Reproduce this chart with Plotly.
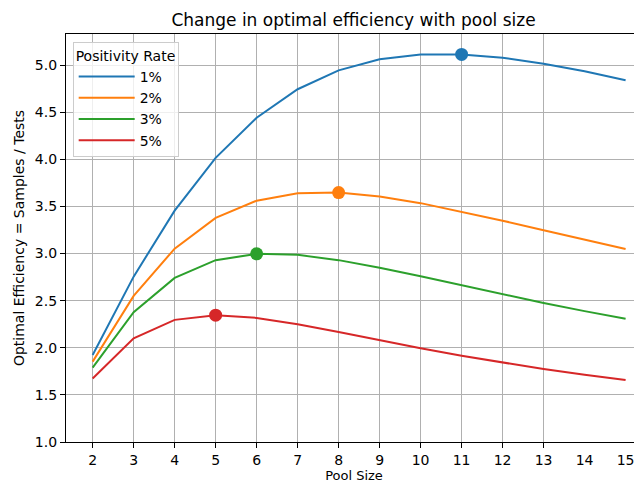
import plotly.graph_objects as go

pool_sizes = [2, 3, 4, 5, 6, 7, 8, 9, 10, 11, 12, 13, 14, 15]
rate_labels = ["1%", "2%", "3%", "5%"]
eff_1 = [1.923, 2.755, 3.455, 4.016, 4.441, 4.744, 4.944, 5.061, 5.112, 5.113, 5.078, 5.015, 4.934, 4.840]
eff_2 = [1.853, 2.550, 3.052, 3.378, 3.561, 3.640, 3.647, 3.605, 3.535, 3.446, 3.349, 3.248, 3.147, 3.048]
eff_3 = [1.789, 2.377, 2.742, 2.930, 2.997, 2.986, 2.930, 2.850, 2.758, 2.662, 2.567, 2.476, 2.389, 2.307]
eff_5 = [1.674, 2.101, 2.296, 2.346, 2.317, 2.250, 2.167, 2.080, 1.995, 1.915, 1.842, 1.774, 1.713, 1.657]
peak_pool = [11, 8, 6, 5]
peak_eff = [5.113, 3.647, 2.997, 2.346]
colors = ["#1f77b4", "#ff7f0e", "#2ca02c", "#d62728"]

series = [eff_1, eff_2, eff_3, eff_5]
FONT = "DejaVu Sans"

fig = go.Figure()
for lab, ys, c in zip(rate_labels, series, colors):
    fig.add_trace(go.Scatter(x=pool_sizes, y=ys, mode="lines", name=lab,
                             line=dict(color=c, width=2)))
for px, py, c in zip(peak_pool, peak_eff, colors):
    fig.add_trace(go.Scatter(x=[px], y=[py], mode="markers", showlegend=False,
                             marker=dict(color=c, size=13, line=dict(width=0))))

# invisible helper trace to activate xaxis2 (grid + tick marks for 2..13)
fig.add_trace(go.Scatter(x=[pool_sizes[0]], y=[eff_1[0]], xaxis="x2", mode="markers",
                         marker=dict(opacity=0), showlegend=False, hoverinfo="skip"))

xr = [1.35, 15.40]
fig.update_layout(
    width=634, height=475,
    margin=dict(l=58, r=0, t=26, b=41, autoexpand=False),
    paper_bgcolor="white", plot_bgcolor="white",
    font=dict(family=FONT, size=14, color="black"),
    title=dict(text="Change in optimal efficiency with pool size", x=0.545, xanchor="center",
               y=0.975, yanchor="middle", yref="container",
               font=dict(size=17, family=FONT, color="black"), automargin=False),
    xaxis=dict(range=xr, tickmode="array", tickvals=pool_sizes,
               ticktext=[str(v) for v in pool_sizes],
               ticks="outside", ticklen=5, tickcolor="rgba(0,0,0,0)",
               showgrid=False, zeroline=False, showline=True, linecolor="black",
               linewidth=1.2, mirror=True, automargin=False,
               title=dict(text="Pool Size", standoff=2, font=dict(size=13)),
               tickfont=dict(size=14)),
    xaxis2=dict(range=xr, overlaying="x", tickmode="array", tickvals=pool_sizes[:12],
                ticks="outside", ticklen=5, tickcolor="black", tickwidth=1,
                showticklabels=False, showgrid=True, gridcolor="#b0b0b0", gridwidth=1,
                zeroline=False, showline=False, side="bottom", automargin=False),
    yaxis=dict(range=[1.0, 5.33], tickmode="array",
               tickvals=[1.0, 1.5, 2.0, 2.5, 3.0, 3.5, 4.0, 4.5, 5.0],
               tickformat=".1f", ticks="outside", ticklen=5, tickcolor="black",
               showgrid=True, gridcolor="#b0b0b0", gridwidth=1, zeroline=False,
               showline=True, linecolor="black", linewidth=1.2, automargin=False,
               title=dict(text="Optimal Efficiency = Samples / Tests", standoff=6,
                          font=dict(size=14)),
               tickfont=dict(size=14)),
    legend=dict(x=0.0116, y=0.981, xanchor="left", yanchor="top",
                title=dict(text="Positivity Rate", font=dict(size=14)),
                bgcolor="rgba(255,255,255,0.8)", bordercolor="#cccccc", borderwidth=1,
                font=dict(size=14), itemwidth=56),
    showlegend=True,
)

fig.write_html("out.html")
